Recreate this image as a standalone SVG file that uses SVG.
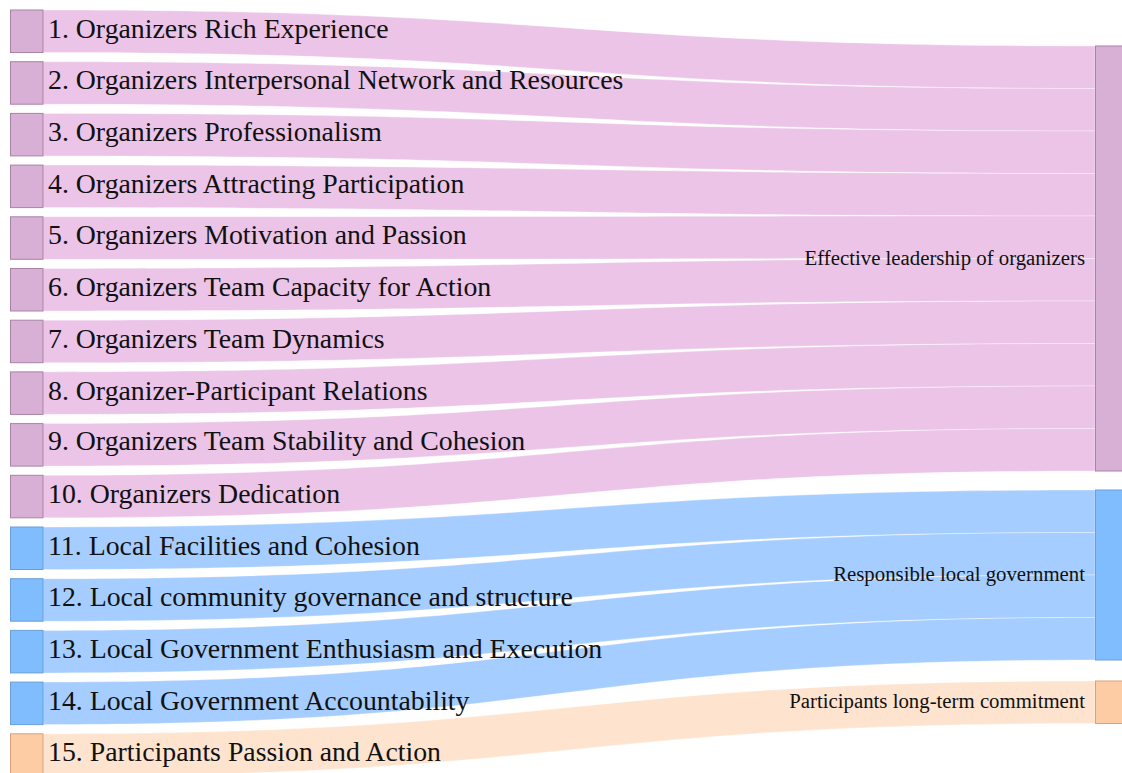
<svg xmlns="http://www.w3.org/2000/svg" width="1122" height="773" viewBox="0 0 1122 773">
  <style>
    .lk { stroke: #ffffff; stroke-width: 0.6; stroke-opacity: 0.55; }
    .lk-p { fill: #ebc4e7; }
    .lk-b { fill: #a5cdff; }
    .lk-o { fill: #fee4ce; }
    .nd { stroke-width: 1; }
    .nd-p { fill: #d8afd5; stroke: #a883a5; }
    .nd-b { fill: #80bdff; stroke: #6a9fd8; }
    .nd-o { fill: #fdcca5; stroke: #d6a47c; }
    .lbl-l { font-family: "Liberation Serif", "Times New Roman", serif; font-size: 27.8px; fill: #111; }
    .lbl-r { font-family: "Liberation Serif", "Times New Roman", serif; font-size: 20.8px; fill: #111; text-anchor: end; }
  </style>

  <!-- flows from each factor to its theme -->
  <g id="links">
    <path class="lk lk-p" d="M43,10 C569,10 569,46 1095,46 L1095,88.5 C569,88.5 569,52.5 43,52.5 Z"/>
    <path class="lk lk-p" d="M43,61.7 C569,61.7 569,88.5 1095,88.5 L1095,131 C569,131 569,104.2 43,104.2 Z"/>
    <path class="lk lk-p" d="M43,113.4 C569,113.4 569,131 1095,131 L1095,173.5 C569,173.5 569,155.9 43,155.9 Z"/>
    <path class="lk lk-p" d="M43,165.1 C569,165.1 569,173.5 1095,173.5 L1095,216 C569,216 569,207.6 43,207.6 Z"/>
    <path class="lk lk-p" d="M43,216.8 C569,216.8 569,216 1095,216 L1095,258.5 C569,258.5 569,259.3 43,259.3 Z"/>
    <path class="lk lk-p" d="M43,268.5 C569,268.5 569,258.5 1095,258.5 L1095,301 C569,301 569,311 43,311 Z"/>
    <path class="lk lk-p" d="M43,320.2 C569,320.2 569,301 1095,301 L1095,343.5 C569,343.5 569,362.7 43,362.7 Z"/>
    <path class="lk lk-p" d="M43,371.9 C569,371.9 569,343.5 1095,343.5 L1095,386 C569,386 569,414.4 43,414.4 Z"/>
    <path class="lk lk-p" d="M43,423.6 C569,423.6 569,386 1095,386 L1095,428.5 C569,428.5 569,466.1 43,466.1 Z"/>
    <path class="lk lk-p" d="M43,475.3 C569,475.3 569,428.5 1095,428.5 L1095,471 C569,471 569,517.8 43,517.8 Z"/>
    <path class="lk lk-b" d="M43,527 C569,527 569,490 1095,490 L1095,532.5 C569,532.5 569,569.5 43,569.5 Z"/>
    <path class="lk lk-b" d="M43,578.7 C569,578.7 569,532.5 1095,532.5 L1095,575 C569,575 569,621.2 43,621.2 Z"/>
    <path class="lk lk-b" d="M43,630.4 C569,630.4 569,575 1095,575 L1095,617.5 C569,617.5 569,672.9 43,672.9 Z"/>
    <path class="lk lk-b" d="M43,682.1 C569,682.1 569,617.5 1095,617.5 L1095,660 C569,660 569,724.6 43,724.6 Z"/>
    <path class="lk lk-o" d="M43,733.8 C569,733.8 569,681 1095,681 L1095,723.5 C569,723.5 569,776.3 43,776.3 Z"/>
  </g>

  <!-- factor nodes (left) -->
  <g id="n1"><rect class="nd nd-p" x="10.5" y="10" width="32.5" height="42.5"/><text class="lbl-l" x="48" y="37.6">1. Organizers Rich Experience</text></g>
  <g id="n2"><rect class="nd nd-p" x="10.5" y="61.7" width="32.5" height="42.5"/><text class="lbl-l" x="48" y="89.3">2. Organizers Interpersonal Network and Resources</text></g>
  <g id="n3"><rect class="nd nd-p" x="10.5" y="113.4" width="32.5" height="42.5"/><text class="lbl-l" x="48" y="141">3. Organizers Professionalism</text></g>
  <g id="n4"><rect class="nd nd-p" x="10.5" y="165.1" width="32.5" height="42.5"/><text class="lbl-l" x="48" y="192.7">4. Organizers Attracting Participation</text></g>
  <g id="n5"><rect class="nd nd-p" x="10.5" y="216.8" width="32.5" height="42.5"/><text class="lbl-l" x="48" y="244.4">5. Organizers Motivation and Passion</text></g>
  <g id="n6"><rect class="nd nd-p" x="10.5" y="268.5" width="32.5" height="42.5"/><text class="lbl-l" x="48" y="296.1">6. Organizers Team Capacity for Action</text></g>
  <g id="n7"><rect class="nd nd-p" x="10.5" y="320.2" width="32.5" height="42.5"/><text class="lbl-l" x="48" y="347.8">7. Organizers Team Dynamics</text></g>
  <g id="n8"><rect class="nd nd-p" x="10.5" y="371.9" width="32.5" height="42.5"/><text class="lbl-l" x="48" y="399.5">8. Organizer-Participant Relations</text></g>
  <g id="n9"><rect class="nd nd-p" x="10.5" y="423.6" width="32.5" height="42.5"/><text class="lbl-l" x="48" y="450.4">9. Organizers Team Stability and Cohesion</text></g>
  <g id="n10"><rect class="nd nd-p" x="10.5" y="475.3" width="32.5" height="42.5"/><text class="lbl-l" x="48" y="502.9">10. Organizers Dedication</text></g>
  <g id="n11"><rect class="nd nd-b" x="10.5" y="527" width="32.5" height="42.5"/><text class="lbl-l" x="48" y="554.6">11. Local Facilities and Cohesion</text></g>
  <g id="n12"><rect class="nd nd-b" x="10.5" y="578.7" width="32.5" height="42.5"/><text class="lbl-l" x="48" y="606.3">12. Local community governance and structure</text></g>
  <g id="n13"><rect class="nd nd-b" x="10.5" y="630.4" width="32.5" height="42.5"/><text class="lbl-l" x="48" y="658">13. Local Government Enthusiasm and Execution</text></g>
  <g id="n14"><rect class="nd nd-b" x="10.5" y="682.1" width="32.5" height="42.5"/><text class="lbl-l" x="48" y="709.6">14. Local Government Accountability</text></g>
  <g id="n15"><rect class="nd nd-o" x="10.5" y="733.8" width="32.5" height="42.5"/><text class="lbl-l" x="48" y="761.3">15. Participants Passion and Action</text></g>

  <!-- theme nodes (right) -->
  <g id="t1"><rect class="nd nd-p" x="1095.5" y="46" width="30" height="425"/><text class="lbl-r" x="1085" y="264.5">Effective leadership of organizers</text></g>
  <g id="t2"><rect class="nd nd-b" x="1095.5" y="490" width="30" height="170"/><text class="lbl-r" x="1085" y="581">Responsible local government</text></g>
  <g id="t3"><rect class="nd nd-o" x="1095.5" y="681" width="30" height="42.5"/><text class="lbl-r" x="1085" y="708">Participants long-term commitment</text></g>
</svg>
